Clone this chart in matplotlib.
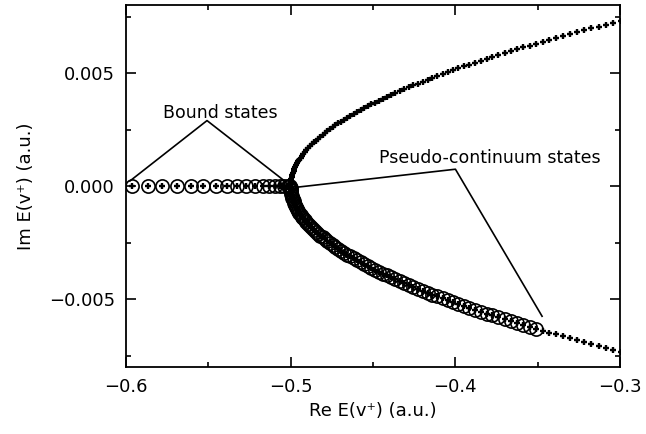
"""
Bound and pseudo-continuum eigenvalues in the complex energy plane
"""
import numpy as np
import matplotlib
matplotlib.use('Agg')
import matplotlib.pyplot as plt
from matplotlib.ticker import MultipleLocator, FuncFormatter

# Bound states on the real axis (a.u.)
bound_re = [-0.5965, -0.5868, -0.5780, -0.5689, -0.5607, -0.5531, -0.5455,
            -0.5389, -0.5328, -0.5271, -0.5217, -0.5170, -0.5130, -0.5095,
            -0.5065, -0.5041, -0.5018, -0.5008, -0.5003]

# Pseudo-continuum branch: real part (a.u.) and |imag| part (milli a.u.)
cont_re = [-0.49997, -0.49989, -0.49976, -0.49958, -0.49934, -0.49905, -0.49870,
           -0.49830, -0.49785, -0.49735, -0.49679, -0.49619, -0.49552, -0.49481,
           -0.49404, -0.49322, -0.49234, -0.49142, -0.49044, -0.48940, -0.48832,
           -0.48718, -0.48599, -0.48474, -0.48344, -0.48209, -0.48069, -0.47923,
           -0.47772, -0.47616, -0.47454, -0.47287, -0.47115, -0.46938, -0.46755,
           -0.46567, -0.46374, -0.46175, -0.45971, -0.45762, -0.45547, -0.45327,
           -0.45102, -0.44872, -0.44636, -0.44395, -0.44148, -0.43897, -0.43640,
           -0.43378, -0.43110, -0.42837, -0.42559, -0.42276, -0.41987, -0.41693,
           -0.41393, -0.41089, -0.40779, -0.40464, -0.40143, -0.39817, -0.39486,
           -0.39150, -0.38808, -0.38461, -0.38109, -0.37751, -0.37388, -0.37020,
           -0.36646, -0.36268, -0.35884, -0.35494, -0.35099, -0.34699, -0.34294,
           -0.33884, -0.33468, -0.33046, -0.32620, -0.32188, -0.31751, -0.31309,
           -0.30861, -0.30408, -0.29950]
cont_im_m = [0.084, 0.168, 0.252, 0.336, 0.420, 0.504, 0.588, 0.672, 0.756, 0.840,
             0.924, 1.008, 1.092, 1.176, 1.260, 1.344, 1.428, 1.512, 1.596, 1.680,
             1.764, 1.848, 1.932, 2.016, 2.100, 2.184, 2.268, 2.352, 2.436, 2.520,
             2.604, 2.688, 2.772, 2.856, 2.940, 3.024, 3.108, 3.192, 3.276, 3.360,
             3.444, 3.528, 3.612, 3.696, 3.780, 3.864, 3.948, 4.032, 4.116, 4.200,
             4.284, 4.368, 4.452, 4.536, 4.620, 4.704, 4.788, 4.872, 4.956, 5.040,
             5.124, 5.208, 5.292, 5.376, 5.460, 5.544, 5.628, 5.712, 5.796, 5.880,
             5.964, 6.048, 6.132, 6.216, 6.300, 6.384, 6.468, 6.552, 6.636, 6.720,
             6.804, 6.888, 6.972, 7.056, 7.140, 7.224, 7.308]

# number of lower-branch states also marked with circles
n_circled = 75

bound_re = np.array(bound_re)
cont_re = np.array(cont_re)
cont_im = np.array(cont_im_m) * 1e-3

plt.rcParams['font.family'] = 'DejaVu Sans'
fig = plt.figure(figsize=(6.46, 4.34), dpi=100)
ax = fig.add_axes([0.195, 0.154, 0.765, 0.834])

# circles: bound states + lower branch up to about -0.35
circ_re = np.concatenate([bound_re, cont_re[:n_circled]])
circ_im = np.concatenate([np.zeros_like(bound_re), -cont_im[:n_circled]])
ax.plot(circ_re, circ_im, 'o', mfc='none', mec='black', ms=9.5, mew=1.2)

# plus markers: everything
plus_re = np.concatenate([bound_re, cont_re, cont_re])
plus_im = np.concatenate([np.zeros_like(bound_re), cont_im, -cont_im])
ax.plot(plus_re, plus_im, '+', color='black', ms=4.8, mew=1.7)

# annotations
fs = 12.5
ax.text(-0.5425, 0.00325, 'Bound states', ha='center', va='center', fontsize=fs)
vb = (-0.5508, 0.00290)
ax.plot([-0.5976, vb[0], -0.5030], [0.00023, vb[1], 0.00019], color='black', lw=1.2)

ax.text(-0.3790, 0.00124, 'Pseudo-continuum states', ha='center', va='center', fontsize=fs)
vp = (-0.4000, 0.00075)
ax.plot([-0.4956, vp[0], -0.3474], [-0.00004, vp[1], -0.00575], color='black', lw=1.2)

ax.set_xlim(-0.6, -0.3)
ax.set_ylim(-0.008, 0.008)
ax.xaxis.set_major_locator(MultipleLocator(0.1))
ax.xaxis.set_minor_locator(MultipleLocator(0.05))
ax.yaxis.set_major_locator(MultipleLocator(0.005))
ax.yaxis.set_minor_locator(MultipleLocator(0.0025))

def fmt(v, nd):
    s = f'{v:.{nd}f}'
    if float(s) == 0:
        s = s.lstrip('-')
    return s.replace('-', '\u2212')

ax.xaxis.set_major_formatter(FuncFormatter(lambda v, p: fmt(v, 1)))
ax.yaxis.set_major_formatter(FuncFormatter(lambda v, p: fmt(v, 3)))

ax.tick_params(which='both', direction='in', top=True, right=True, width=1.2, labelsize=13)
ax.tick_params(which='major', length=7, pad=8)
ax.tick_params(which='minor', length=3.5)
for s in ax.spines.values():
    s.set_linewidth(1.3)

ax.set_xlabel('Re E(v\u207a) (a.u.)', fontsize=13, labelpad=4)
ax.set_ylabel('Im E(v\u207a) (a.u.)', fontsize=13, labelpad=10)

fig.savefig('out.png', dpi=100)
